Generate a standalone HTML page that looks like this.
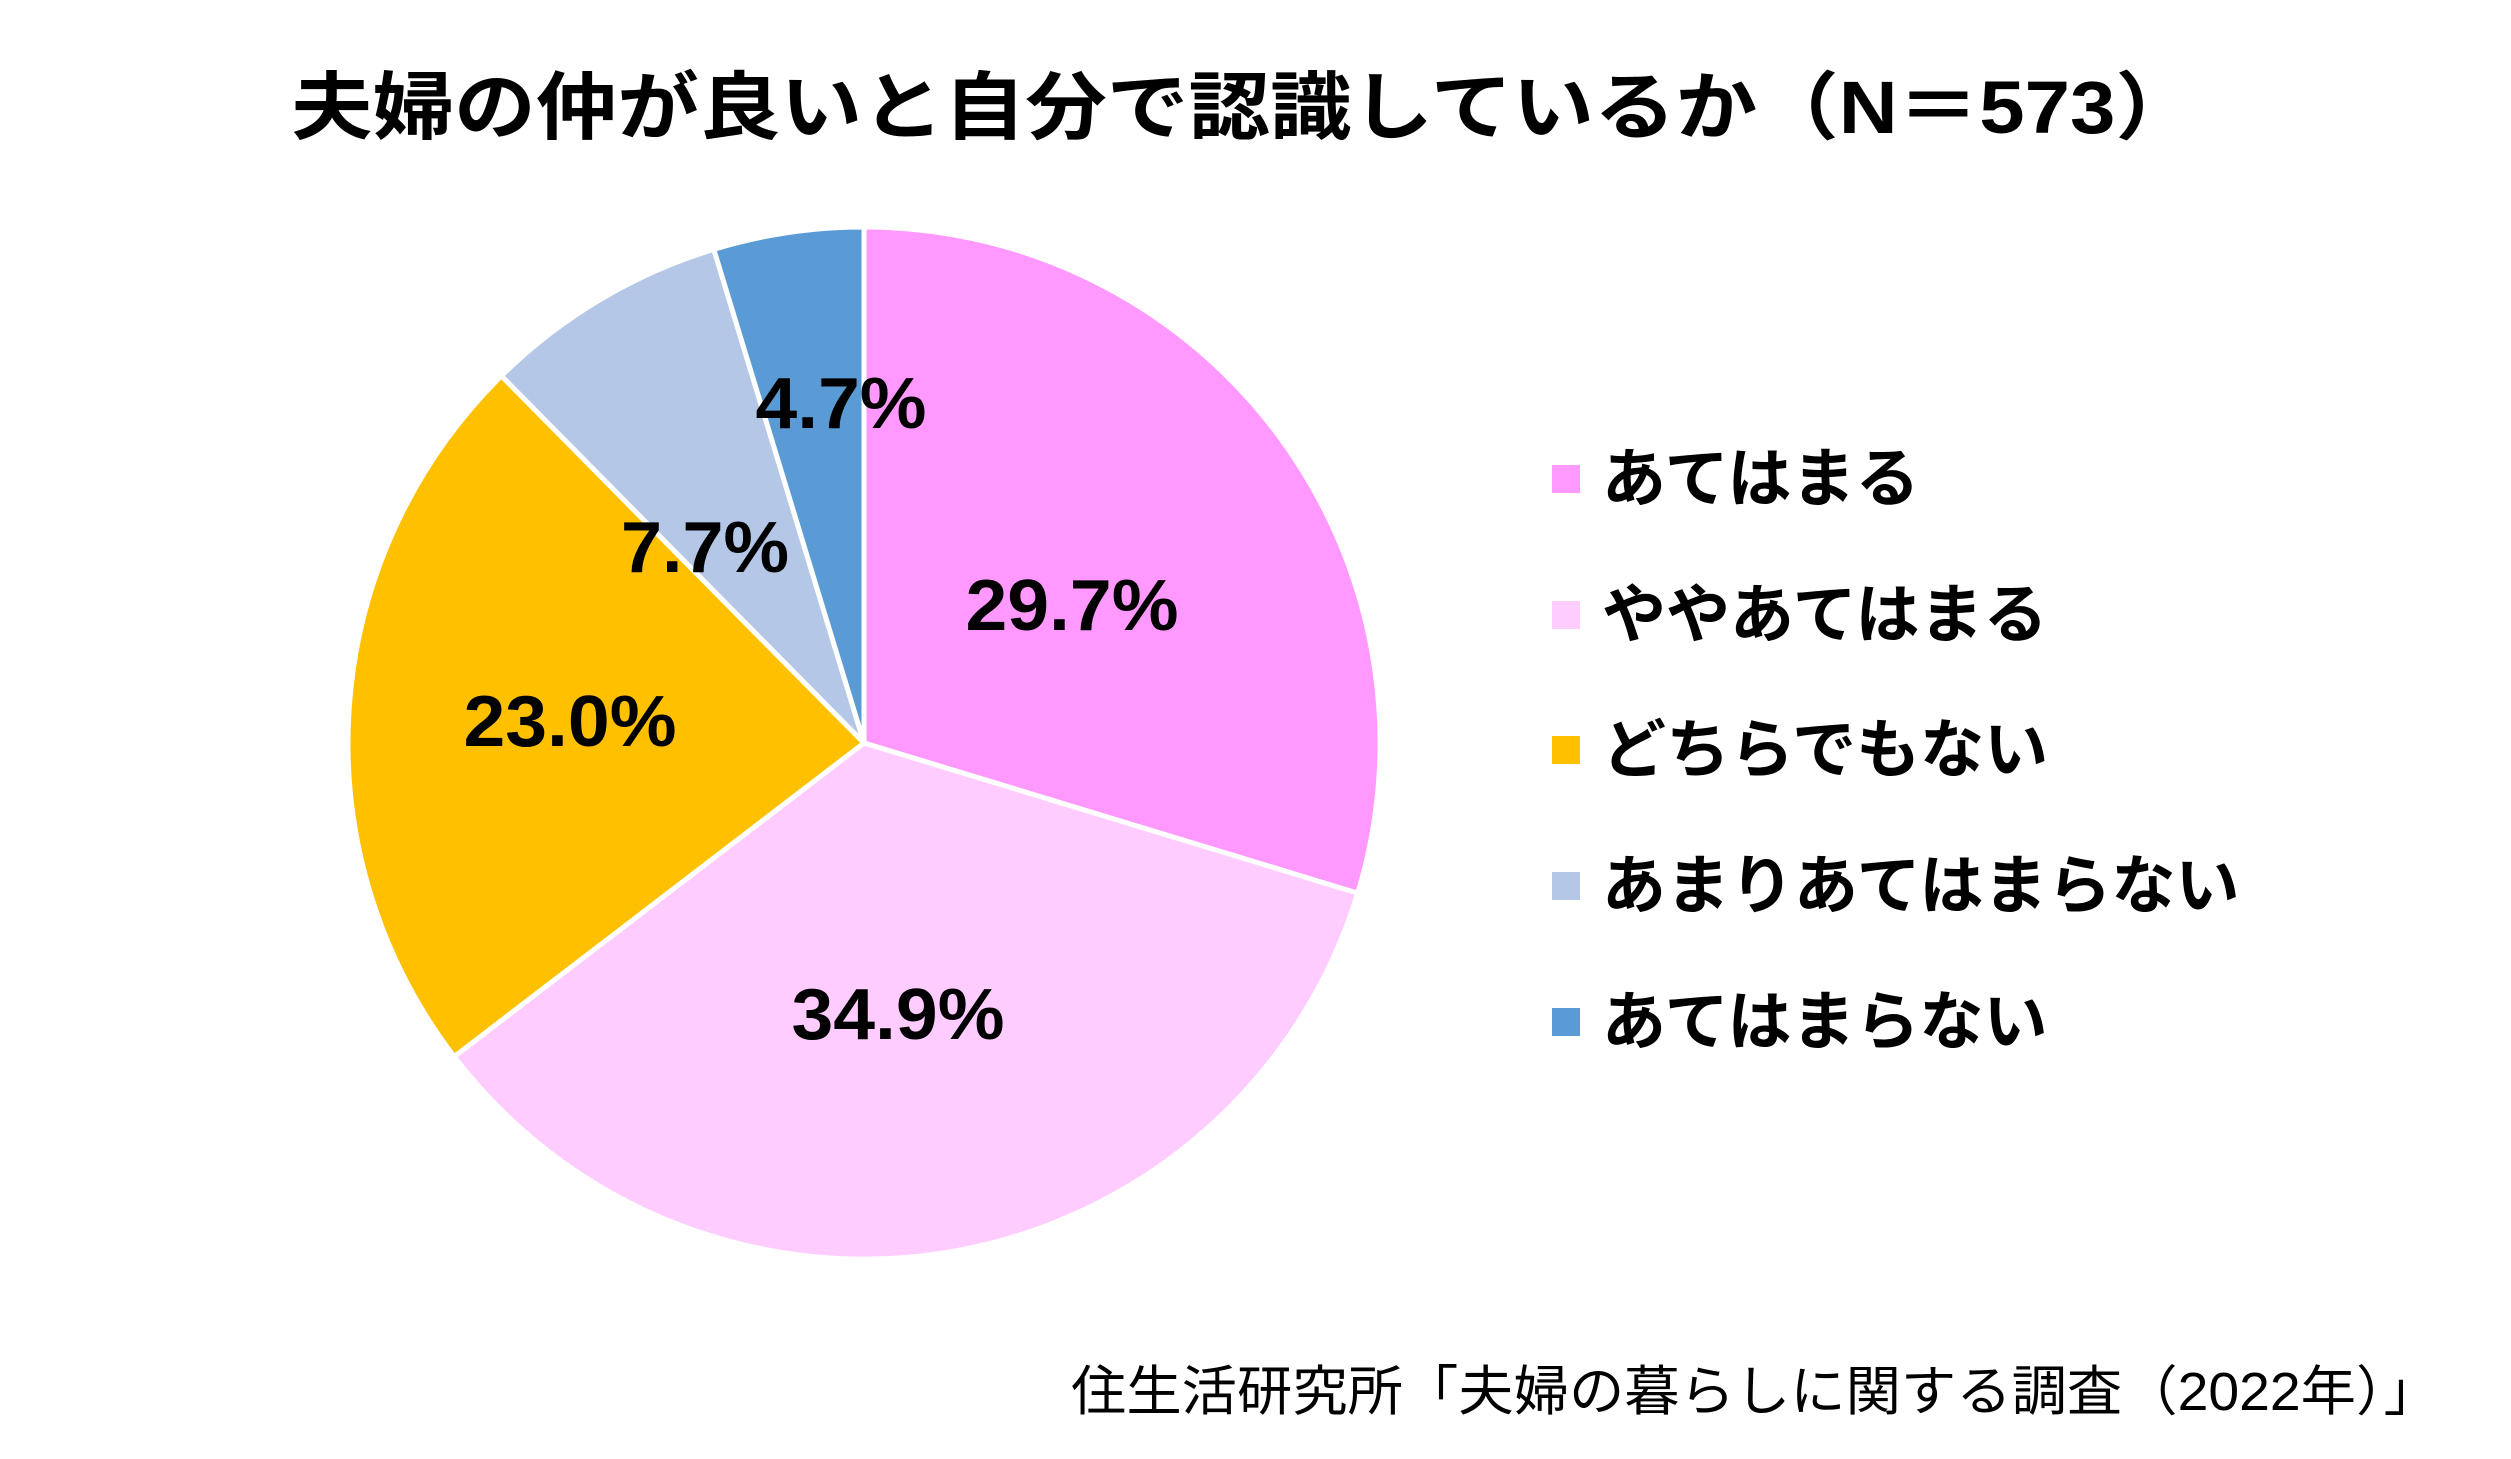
<!DOCTYPE html>
<html><head><meta charset="utf-8"><style>
body{margin:0;background:#fff;}
svg text{font-family:"Liberation Sans","Noto Sans CJK JP",sans-serif;}
</style></head><body>
<svg width="2511" height="1454" viewBox="0 0 2511 1454" xmlns="http://www.w3.org/2000/svg">
<rect width="2511" height="1454" fill="#fff"/>
<text x="291" y="133" font-size="74" font-weight="bold" fill="#000" textLength="1906" lengthAdjust="spacingAndGlyphs">夫婦の仲が良いと自分で認識しているか（N＝573）</text>
<g stroke="#fff" stroke-width="5" stroke-linejoin="round">
<path d="M864,743 L864,227 A516,516 0 0 1 1357.7,893.2 Z" fill="#FF99FF"/>
<path d="M864,743 L1357.7,893.2 A516,516 0 0 1 454.2,1056.6 Z" fill="#FFCCFF"/>
<path d="M864,743 L454.2,1056.6 A516,516 0 0 1 501.4,375.9 Z" fill="#FFC000"/>
<path d="M864,743 L501.4,375.9 A516,516 0 0 1 713.8,249.3 Z" fill="#B4C7E7"/>
<path d="M864,743 L713.8,249.3 A516,516 0 0 1 864,227 Z" fill="#5B9BD5"/>
</g>
<g font-size="72" font-weight="bold" text-anchor="middle" fill="#000">
<text x="1072" y="630" textLength="213" lengthAdjust="spacingAndGlyphs">29.7%</text>
<text x="898" y="1039" textLength="213" lengthAdjust="spacingAndGlyphs">34.9%</text>
<text x="570" y="746" textLength="213" lengthAdjust="spacingAndGlyphs">23.0%</text>
<text x="705" y="572" textLength="168" lengthAdjust="spacingAndGlyphs">7.7%</text>
<text x="841" y="428" textLength="171" lengthAdjust="spacingAndGlyphs">4.7%</text>
</g>
<g font-size="64" font-weight="bold" fill="#000">
<rect x="1552" y="465" width="28" height="28" fill="#FF99FF"/><text x="1602" y="501">あてはまる</text>
<rect x="1552" y="601" width="28" height="28" fill="#FFCCFF"/><text x="1602" y="637">ややあてはまる</text>
<rect x="1552" y="736" width="28" height="28" fill="#FFC000"/><text x="1602" y="772">どちらでもない</text>
<rect x="1552" y="872" width="28" height="28" fill="#B4C7E7"/><text x="1602" y="908">あまりあてはまらない</text>
<rect x="1552" y="1008" width="28" height="28" fill="#5B9BD5"/><text x="1602" y="1044">あてはまらない</text>
</g>
<text x="1071" y="1410" font-size="54" fill="#000" textLength="1368" lengthAdjust="spacingAndGlyphs">住生活研究所「夫婦の暮らしに関する調査（2022年）」</text>
</svg>
</body></html>
